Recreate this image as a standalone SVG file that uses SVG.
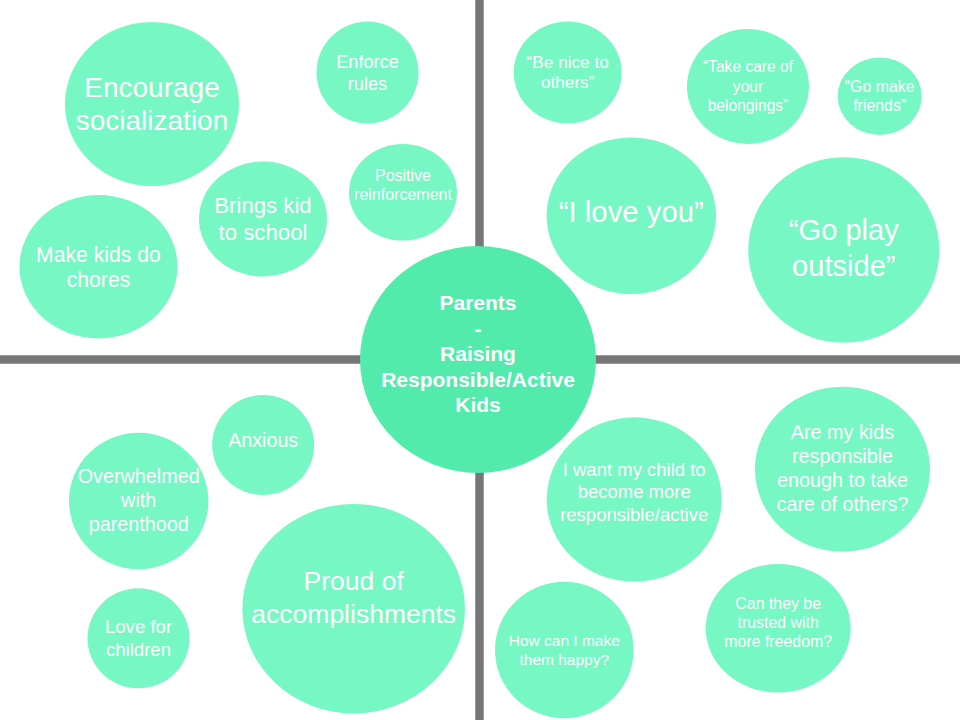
<svg xmlns="http://www.w3.org/2000/svg" width="960" height="720" viewBox="0 0 960 720">
<style>
.bub{fill:#76F7C3}
.hub{fill:#52EBAC}
text{font-family:"Liberation Sans",Arial,sans-serif;fill:#FFFFFF;text-anchor:middle}
.b{font-weight:bold}
.ax{stroke:#777777;stroke-width:8.5}
</style>
<rect width="960" height="720" fill="#FFFFFF"/>
<g id="connectors">
<line class="ax" x1="479.5" y1="0" x2="479.5" y2="720"/>
<line class="ax" x1="0" y1="359.5" x2="960" y2="359.5"/>
</g>
<g id="n-encourage"><ellipse class="bub" cx="152" cy="104" rx="87" ry="82"/><text font-size="28"><tspan x="152" y="97">Encourage</tspan><tspan x="152" y="129.5">socialization</tspan></text></g>
<g id="n-enforce"><ellipse class="bub" cx="367.5" cy="72.5" rx="51" ry="51"/><text font-size="18.2"><tspan x="367.5" y="67.5">Enforce</tspan><tspan x="367.5" y="90">rules</tspan></text></g>
<g id="n-positive"><ellipse class="bub" cx="403" cy="192.3" rx="54" ry="48.3"/><text font-size="16"><tspan x="403" y="180.5">Positive</tspan><tspan x="403" y="200">reinforcement</tspan></text></g>
<g id="n-brings"><ellipse class="bub" cx="263" cy="219" rx="64" ry="57.5"/><text font-size="22.2"><tspan x="263" y="213.3">Brings kid</tspan><tspan x="263" y="240">to school</tspan></text></g>
<g id="n-chores"><ellipse class="bub" cx="98.5" cy="266.7" rx="79" ry="71.7"/><text font-size="21.2"><tspan x="98.5" y="261.5">Make kids do</tspan><tspan x="98.5" y="286.5">chores</tspan></text></g>
<g id="n-benice"><ellipse class="bub" cx="567.7" cy="72.5" rx="54" ry="51"/><text font-size="17.2"><tspan x="567.7" y="67.5">“Be nice to</tspan><tspan x="567.7" y="88.3">others”</tspan></text></g>
<g id="n-takecare"><ellipse class="bub" cx="748" cy="86.5" rx="61" ry="57.5"/><text font-size="15.6"><tspan x="748" y="72.3">“Take care of</tspan><tspan x="748" y="91.5">your</tspan><tspan x="748" y="110.7">belongings”</tspan></text></g>
<g id="n-gomake"><ellipse class="bub" cx="879.7" cy="96.3" rx="42" ry="38.7"/><text font-size="15.9"><tspan x="879.7" y="91.7">“Go make</tspan><tspan x="879.7" y="111">friends”</tspan></text></g>
<g id="n-iloveyou"><ellipse class="bub" cx="631.3" cy="215.7" rx="84.7" ry="78.3"/><text font-size="29.3" x="631.3" y="221.7">“I love you”</text></g>
<g id="n-goplay"><ellipse class="bub" cx="843.8" cy="250" rx="95.5" ry="92.7"/><text font-size="29.1"><tspan x="843.8" y="240">“Go play</tspan><tspan x="843.8" y="276">outside”</tspan></text></g>
<g id="n-anxious"><ellipse class="bub" cx="263.2" cy="445" rx="51" ry="50"/><text font-size="19.7" x="263.2" y="446.7">Anxious</text></g>
<g id="n-overwhelmed"><ellipse class="bub" cx="138.7" cy="501" rx="69.7" ry="68.3"/><text font-size="19.8"><tspan x="138.7" y="483.3">Overwhelmed</tspan><tspan x="138.7" y="507">with</tspan><tspan x="138.7" y="531">parenthood</tspan></text></g>
<g id="n-love"><ellipse class="bub" cx="138.5" cy="638.3" rx="51" ry="50"/><text font-size="18.6"><tspan x="138.5" y="633.3">Love for</tspan><tspan x="138.5" y="656">children</tspan></text></g>
<g id="n-proud"><ellipse class="bub" cx="353.7" cy="608.7" rx="111.3" ry="104.7"/><text font-size="26.5"><tspan x="353.7" y="590">Proud of</tspan><tspan x="353.7" y="622.7">accomplishments</tspan></text></g>
<g id="n-iwant"><ellipse class="bub" cx="634.2" cy="499.5" rx="87.5" ry="82.2"/><text font-size="18.5"><tspan x="634.2" y="475.7">I want my child to</tspan><tspan x="634.2" y="498">become more</tspan><tspan x="634.2" y="520.7">responsible/active</tspan></text></g>
<g id="n-aremykids"><ellipse class="bub" cx="842.5" cy="469.2" rx="87.5" ry="82.5"/><text font-size="19.8"><tspan x="842.5" y="438.5">Are my kids</tspan><tspan x="842.5" y="462.7">responsible</tspan><tspan x="842.5" y="486.7">enough to take</tspan><tspan x="842.5" y="510.7">care of others?</tspan></text></g>
<g id="n-canthey"><ellipse class="bub" cx="778.2" cy="628.3" rx="72.5" ry="64.3"/><text font-size="15.9"><tspan x="778.2" y="609.3">Can they be</tspan><tspan x="778.2" y="628.3">trusted with</tspan><tspan x="778.2" y="647.3">more freedom?</tspan></text></g>
<g id="n-howcan"><ellipse class="bub" cx="564.3" cy="650" rx="69.3" ry="68.3"/><text font-size="15.5"><tspan x="564.3" y="645.7">How can I make</tspan><tspan x="564.3" y="665">them happy?</tspan></text></g>
<g id="n-center"><ellipse class="hub" cx="478" cy="359.5" rx="118" ry="113.5"/><text class="b" font-size="21"><tspan x="478" y="310">Parents</tspan><tspan x="478" y="335.5">-</tspan><tspan x="478" y="361">Raising</tspan><tspan x="478" y="386.5">Responsible/Active</tspan><tspan x="478" y="412">Kids</tspan></text></g>
</svg>
